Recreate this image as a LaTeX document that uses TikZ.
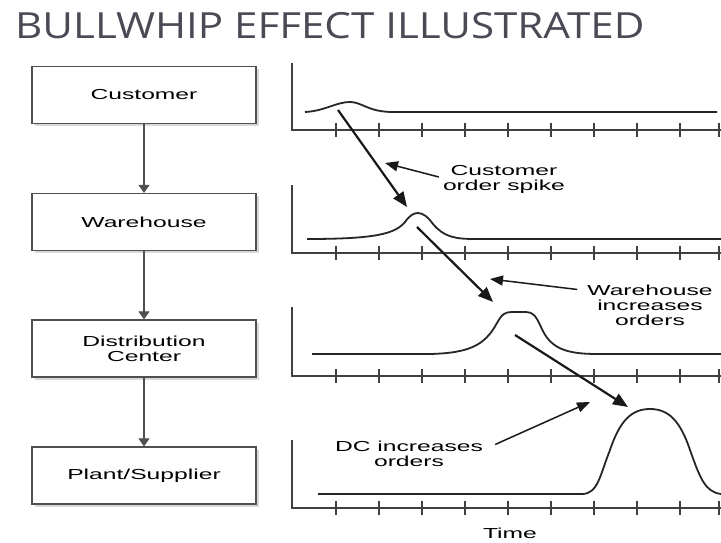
\documentclass[tikz,border=0pt]{standalone}
\usepackage{fontspec}
\setmainfont{Liberation Sans}
\newfontfamily\lblfont[FakeStretch=1.7]{Liberation Sans}
\newfontfamily\titlefont[FakeStretch=1.17]{Open Sans}
\usetikzlibrary{arrows.meta,shadows}
\definecolor{titlegray}{HTML}{4A4A56}
\definecolor{boxline}{HTML}{505050}
\tikzset{
  stagebox/.style={draw=boxline,line width=1.2pt,fill=white,minimum width=224pt,minimum height=57pt,
    align=center,font=\lblfont\fontsize{14.5}{15}\selectfont,
    drop shadow={shadow xshift=2.5pt,shadow yshift=-2.5pt,fill=black!25,opacity=0.6}},
  flow/.style={draw=boxline,line width=1.1pt,-{Triangle[length=8pt,width=11pt]}},
  lbl/.style={align=center,inner sep=1pt,font=\lblfont\fontsize{14.5}{15}\selectfont},
  axisline/.style={draw=black!75,line width=1.4pt},
  curve/.style={draw=black!85,line width=1.8pt},
  bigarrow/.style={draw=black!90,line width=2.2pt,-{Triangle[length=15pt,width=12pt]}},
  callout/.style={draw=black!90,line width=1.5pt,-{Triangle[length=13pt,width=10pt]}}
}
\begin{document}
\begin{tikzpicture}[x=1pt,y=-1pt]
  \useasboundingbox[fill=white] (0,0) rectangle (721,543);
  \node[anchor=base west,text=titlegray,font=\titlefont\fontsize{36}{40}\selectfont,inner sep=0pt] (title) at (15,39) {BULLWHIP EFFECT ILLUSTRATED};

  % stages of the chain
  \node[stagebox] (C) at (144,95) {Customer};
  \node[stagebox] (W) at (144,222) {Warehouse};
  \node[stagebox] (D) at (144,348.5) {Distribution\\Center};
  \node[stagebox] (P) at (144,475.5) {Plant/Supplier};
  \draw[flow] (C) -- (W);
  \draw[flow] (W) -- (D);
  \draw[flow] (D) -- (P);

  % axes with ticks
  \foreach \ay/\top in {130/63,253/185,376/307,508/440}{
    \draw[axisline] (292,\top) -- (292,\ay) -- (721,\ay);
    \foreach \tx in {336,379,422,465,508,551,594,637,680,719}
      \draw[axisline] (\tx,\ay-7) -- (\tx,\ay+7);
  }

  % order curves
  \draw[curve] (305,112) .. controls (325,111) and (336,102) .. (350,102)
    .. controls (362,102) and (368,112) .. (393,112) -- (717,112);
  \draw[curve] (307,239) .. controls (375,239) and (395,234) .. (405,222)
    .. controls (410,215) and (414,213) .. (418,213)
    .. controls (423,213) and (428,217) .. (433,224)
    .. controls (444,237) and (455,239) .. (475,239) -- (721,239);
  \draw[curve] (312,354) -- (430,354) .. controls (470,353) and (485,345) .. (497,323)
    .. controls (502,314) and (505,312) .. (512,312) -- (526,312)
    .. controls (533,312) and (536,316) .. (541,327)
    .. controls (550,348) and (565,354) .. (597,354) -- (721,354);
  \draw[curve] (318,494) -- (582,494) .. controls (598,494) and (600,475) .. (610,450)
    .. controls (620,420) and (632,409) .. (650,409)
    .. controls (668,409) and (680,420) .. (690,450)
    .. controls (700,478) and (705,492) .. (721,494);

  % bullwhip arrows
  \coordinate (a1) at (338,110);
  \coordinate (b1) at (407,207);
  \coordinate (a2) at (417,227);
  \coordinate (b2) at (493,302);
  \coordinate (a3) at (515,335);
  \coordinate (b3) at (628,407);
  \draw[bigarrow] (a1) -- (b1);
  \draw[bigarrow] (a2) -- (b2);
  \draw[bigarrow] (a3) -- (b3);

  % callouts
  \node[lbl] (spike) at (504,179) {Customer\\order spike};
  \node[lbl] (whinc) at (650,305) {Warehouse\\increases\\orders};
  \node[lbl] (dcinc) at (409,453.5) {DC increases\\orders};
  \node[lbl] (time) at (510,533) {Time};
  \coordinate (s1) at (385,163);
  \coordinate (s2) at (490,279);
  \coordinate (s3) at (590,402);
  \draw[callout] ([xshift=-3pt,yshift=2pt]spike.west) -- (s1);
  \draw[callout] ([xshift=-9pt,yshift=-6pt]whinc.north west) -- (s2);
  \draw[callout] ([xshift=11pt,yshift=-5pt]dcinc.north east) -- (s3);
\end{tikzpicture}
\end{document}
